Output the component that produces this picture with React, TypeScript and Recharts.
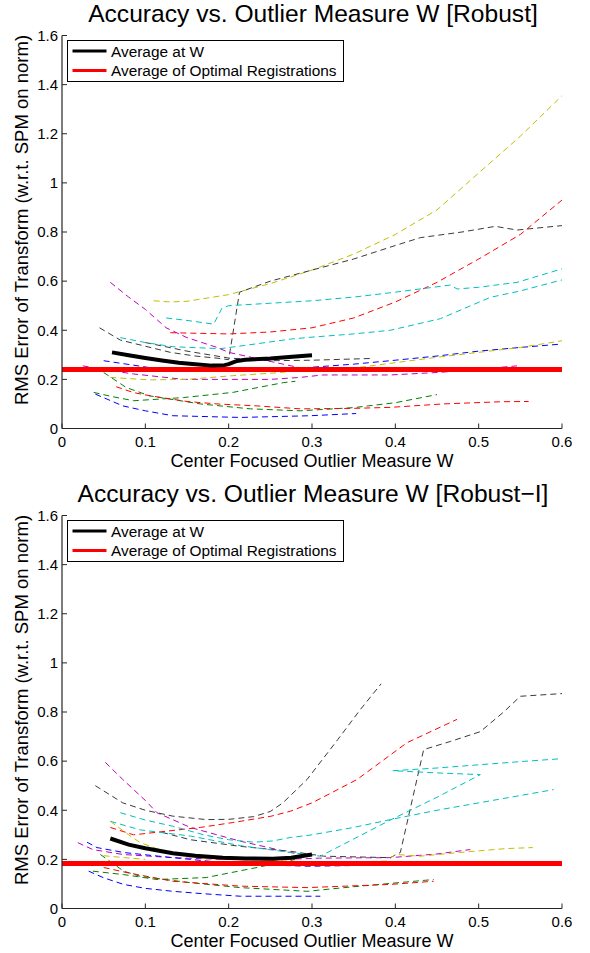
import React from 'react';
import { LineChart, Line, XAxis, YAxis } from 'recharts';

type Pt = [number, number];

// ---------- axes ----------
const xTicks = [0, 0.1, 0.2, 0.3, 0.4, 0.5, 0.6];
const xTickLabels = ['0', '0.1', '0.2', '0.3', '0.4', '0.5', '0.6'];
const yTicks = [0, 0.2, 0.4, 0.6, 0.8, 1, 1.2, 1.4, 1.6];
const yTickLabels = ['0', '0.2', '0.4', '0.6', '0.8', '1', '1.2', '1.4', '1.6'];

const titles = ['Accuracy vs. Outlier Measure W [Robust]', 'Accuracy vs. Outlier Measure W [Robust\u2212I]'];
const xAxisLabel = 'Center Focused Outlier Measure W';
const yAxisLabel = 'RMS Error of Transform (w.r.t. SPM on norm)';
const legendLabels = ['Average at W', 'Average of Optimal Registrations'];

// ---------- [Robust] ----------
const robustYellowHigh: Pt[] = [[0.11, 0.52], [0.13, 0.515], [0.15, 0.518], [0.2, 0.545], [0.25, 0.59], [0.3, 0.645], [0.35, 0.71], [0.4, 0.79], [0.45, 0.89], [0.5, 1.04], [0.55, 1.19], [0.6, 1.355]];
const robustGrayJump: Pt[] = [[0.045, 0.41], [0.07, 0.36], [0.1, 0.335], [0.13, 0.31], [0.16, 0.295], [0.19, 0.285], [0.2, 0.28], [0.213, 0.555], [0.25, 0.6], [0.3, 0.645], [0.35, 0.69], [0.4, 0.745], [0.43, 0.777], [0.48, 0.8], [0.52, 0.823], [0.546, 0.808], [0.6, 0.826]];
const robustGrayFlat: Pt[] = [[0.1, 0.35], [0.15, 0.315], [0.2, 0.287], [0.25, 0.276], [0.3, 0.278], [0.37, 0.285]];
const robustRedHigh: Pt[] = [[0.13, 0.39], [0.2, 0.385], [0.25, 0.393], [0.3, 0.41], [0.35, 0.45], [0.4, 0.515], [0.45, 0.595], [0.5, 0.69], [0.55, 0.79], [0.6, 0.93]];
const robustCyanHigh: Pt[] = [[0.125, 0.45], [0.15, 0.44], [0.182, 0.425], [0.192, 0.49], [0.2, 0.5], [0.25, 0.51], [0.3, 0.52], [0.35, 0.535], [0.4, 0.555], [0.466, 0.584], [0.474, 0.568], [0.5, 0.575], [0.546, 0.595], [0.6, 0.65]];
const robustCyanLow: Pt[] = [[0.07, 0.37], [0.1, 0.35], [0.133, 0.333], [0.19, 0.325], [0.234, 0.345], [0.274, 0.364], [0.3, 0.372], [0.35, 0.385], [0.394, 0.4], [0.454, 0.447], [0.514, 0.534], [0.55, 0.56], [0.6, 0.605]];
const robustMagentaHigh: Pt[] = [[0.058, 0.595], [0.08, 0.535], [0.1, 0.485], [0.125, 0.41], [0.15, 0.37], [0.186, 0.33], [0.2, 0.31], [0.246, 0.276], [0.286, 0.247], [0.3, 0.24]];
const robustMagentaLow: Pt[] = [[0.025, 0.255], [0.05, 0.24], [0.086, 0.222], [0.146, 0.2], [0.205, 0.2], [0.25, 0.2], [0.286, 0.208], [0.313, 0.218], [0.394, 0.218], [0.45, 0.228], [0.48, 0.235], [0.546, 0.255]];
const robustBlueMid: Pt[] = [[0.05, 0.276], [0.105, 0.248], [0.15, 0.24], [0.2, 0.236], [0.25, 0.24], [0.298, 0.249], [0.35, 0.262], [0.394, 0.276], [0.45, 0.295], [0.5, 0.315], [0.55, 0.33], [0.6, 0.344]];
const robustYellowLow: Pt[] = [[0.058, 0.208], [0.105, 0.198], [0.15, 0.2], [0.205, 0.215], [0.25, 0.225], [0.286, 0.235], [0.357, 0.249], [0.4, 0.268], [0.45, 0.29], [0.5, 0.31], [0.55, 0.33], [0.6, 0.357]];
const robustGreenRise: Pt[] = [[0.038, 0.147], [0.06, 0.13], [0.086, 0.113], [0.146, 0.126], [0.205, 0.147], [0.266, 0.187], [0.28, 0.192]];
const robustGreenFall: Pt[] = [[0.05, 0.228], [0.077, 0.167], [0.105, 0.133], [0.166, 0.1], [0.226, 0.08], [0.286, 0.072], [0.35, 0.085], [0.4, 0.105], [0.45, 0.138]];
const robustRedLow: Pt[] = [[0.065, 0.17], [0.086, 0.146], [0.106, 0.133], [0.15, 0.11], [0.186, 0.1], [0.234, 0.092], [0.286, 0.08], [0.35, 0.082], [0.394, 0.086], [0.457, 0.1], [0.527, 0.109], [0.56, 0.11]];
const robustBlueLow: Pt[] = [[0.04, 0.14], [0.073, 0.092], [0.1, 0.072], [0.133, 0.052], [0.214, 0.045], [0.298, 0.052], [0.353, 0.061]];
const robustAvgW: Pt[] = [[0.06, 0.31], [0.08, 0.298], [0.1, 0.287], [0.12, 0.277], [0.14, 0.268], [0.16, 0.262], [0.18, 0.256], [0.195, 0.258], [0.2, 0.262], [0.21, 0.275], [0.22, 0.28], [0.25, 0.285], [0.28, 0.293], [0.3, 0.298]];
const robustAvgOpt = 0.24;

// ---------- [Robust-I] ----------
const robustIMagentaHigh: Pt[] = [[0.052, 0.595], [0.073, 0.525], [0.1, 0.44], [0.114, 0.39], [0.154, 0.33], [0.214, 0.274], [0.274, 0.228], [0.3, 0.215]];
const robustIMagentaLow: Pt[] = [[0.019, 0.268], [0.037, 0.24], [0.073, 0.22], [0.133, 0.207], [0.193, 0.2], [0.25, 0.198], [0.309, 0.205], [0.394, 0.207], [0.45, 0.222], [0.49, 0.24]];
const robustIGrayHigh: Pt[] = [[0.04, 0.5], [0.073, 0.43], [0.1, 0.4], [0.133, 0.376], [0.173, 0.362], [0.2, 0.363], [0.23, 0.374], [0.25, 0.395], [0.265, 0.43], [0.294, 0.525], [0.331, 0.688], [0.358, 0.81], [0.383, 0.915]];
const robustIGrayJump: Pt[] = [[0.12, 0.31], [0.154, 0.28], [0.214, 0.253], [0.274, 0.233], [0.314, 0.213], [0.394, 0.207], [0.406, 0.228], [0.434, 0.647], [0.466, 0.68], [0.502, 0.72], [0.53, 0.8], [0.55, 0.864], [0.6, 0.875]];
const robustIRedHigh: Pt[] = [[0.058, 0.33], [0.086, 0.3], [0.126, 0.315], [0.166, 0.33], [0.205, 0.35], [0.25, 0.375], [0.274, 0.396], [0.3, 0.43], [0.354, 0.525], [0.414, 0.675], [0.474, 0.77]];
const robustICyanA: Pt[] = [[0.07, 0.39], [0.1, 0.36], [0.133, 0.335], [0.17, 0.3], [0.2, 0.28], [0.23, 0.27], [0.253, 0.275], [0.274, 0.289], [0.3, 0.3], [0.35, 0.33], [0.394, 0.362], [0.45, 0.4], [0.5, 0.43], [0.55, 0.46], [0.59, 0.484]];
const robustICyanB: Pt[] = [[0.058, 0.355], [0.094, 0.32], [0.154, 0.295], [0.214, 0.256], [0.274, 0.228], [0.31, 0.213], [0.35, 0.283], [0.394, 0.36], [0.45, 0.453], [0.502, 0.545], [0.45, 0.552], [0.397, 0.561], [0.45, 0.572], [0.5, 0.585], [0.55, 0.598], [0.6, 0.61]];
const robustIYellow: Pt[] = [[0.058, 0.355], [0.08, 0.3], [0.094, 0.268], [0.133, 0.22], [0.17, 0.205], [0.2, 0.2], [0.25, 0.195], [0.3, 0.19], [0.35, 0.19], [0.39, 0.193], [0.4, 0.22], [0.43, 0.213], [0.477, 0.228], [0.533, 0.244], [0.565, 0.248]];
const robustIYellowShort: Pt[] = [[0.05, 0.215], [0.075, 0.207], [0.1, 0.2]];
const robustIBlueMid: Pt[] = [[0.03, 0.27], [0.042, 0.248], [0.074, 0.228], [0.133, 0.207], [0.214, 0.18], [0.298, 0.172], [0.35, 0.175], [0.43, 0.175]];
const robustIBlueLow: Pt[] = [[0.032, 0.152], [0.05, 0.125], [0.074, 0.098], [0.1, 0.082], [0.133, 0.07], [0.17, 0.06], [0.214, 0.05], [0.25, 0.05], [0.31, 0.05]];
const robustIGreenRise: Pt[] = [[0.037, 0.152], [0.074, 0.138], [0.114, 0.118], [0.173, 0.126], [0.234, 0.167], [0.28, 0.2]];
const robustIGreenFall: Pt[] = [[0.046, 0.22], [0.074, 0.152], [0.094, 0.131], [0.154, 0.105], [0.214, 0.085], [0.294, 0.07], [0.354, 0.09], [0.446, 0.118]];
const robustIRedLow: Pt[] = [[0.05, 0.167], [0.078, 0.146], [0.133, 0.111], [0.214, 0.091], [0.294, 0.085], [0.394, 0.098], [0.446, 0.111]];
const robustIAvgW: Pt[] = [[0.058, 0.285], [0.08, 0.26], [0.1, 0.245], [0.133, 0.225], [0.16, 0.215], [0.193, 0.207], [0.22, 0.204], [0.253, 0.203], [0.275, 0.207], [0.3, 0.22]];
const robustIAvgOpt = 0.183;

// ---------- colours ----------
const C = {
  b: '#0000ff',
  g: '#008000',
  r: '#ff0000',
  c: '#00bfbf',
  m: '#bf00bf',
  y: '#bfbf00',
  k: '#3a3a3a',
};

const FONT = '"Liberation Sans", Arial, sans-serif';
const AXIS = '#262626';
const W = 590;
const H = 473;
const PLOT_TOP = 35.5;
const PLOT_BOTTOM = 428.5;
const PLOT_LEFT = 62;
const PLOT_RIGHT = 562;

type Series = { color: string; pts: Pt[] };

const toData = (pts: Pt[]) => pts.map(([x, y]) => ({ x, y }));

const robustSeries: Series[] = [
  { color: C.y, pts: robustYellowHigh },
  { color: C.k, pts: robustGrayJump },
  { color: C.k, pts: robustGrayFlat },
  { color: C.r, pts: robustRedHigh },
  { color: C.c, pts: robustCyanHigh },
  { color: C.c, pts: robustCyanLow },
  { color: C.m, pts: robustMagentaHigh },
  { color: C.m, pts: robustMagentaLow },
  { color: C.b, pts: robustBlueMid },
  { color: C.y, pts: robustYellowLow },
  { color: C.g, pts: robustGreenRise },
  { color: C.g, pts: robustGreenFall },
  { color: C.r, pts: robustRedLow },
  { color: C.b, pts: robustBlueLow },
];

const robustISeries: Series[] = [
  { color: C.m, pts: robustIMagentaHigh },
  { color: C.m, pts: robustIMagentaLow },
  { color: C.k, pts: robustIGrayHigh },
  { color: C.k, pts: robustIGrayJump },
  { color: C.r, pts: robustIRedHigh },
  { color: C.c, pts: robustICyanA },
  { color: C.c, pts: robustICyanB },
  { color: C.y, pts: robustIYellow },
  { color: C.y, pts: robustIYellowShort },
  { color: C.b, pts: robustIBlueMid },
  { color: C.b, pts: robustIBlueLow },
  { color: C.g, pts: robustIGreenRise },
  { color: C.g, pts: robustIGreenFall },
  { color: C.r, pts: robustIRedLow },
];

const XTick = (props: any) => {
  const { x, y, payload } = props;
  const i = xTicks.indexOf(payload.value);
  return (
    <g>
      <line x1={x} x2={x} y1={y} y2={y - 5} stroke={AXIS} strokeWidth={1} />
      <text x={x} y={y + 18} textAnchor="middle" fontSize={15} fontFamily={FONT} fill="#000">
        {i >= 0 ? xTickLabels[i] : String(payload.value)}
      </text>
    </g>
  );
};

const YTick = (props: any) => {
  const { x, y, payload } = props;
  const i = yTicks.indexOf(payload.value);
  return (
    <g>
      <line x1={x} x2={x + 5} y1={y} y2={y} stroke={AXIS} strokeWidth={1} />
      <text x={x - 4} y={y + 5.3} textAnchor="end" fontSize={15} fontFamily={FONT} fill="#000">
        {i >= 0 ? yTickLabels[i] : String(payload.value)}
      </text>
    </g>
  );
};

function Panel({ top, title, series, avgW, avgOpt }: { top: number; title: string; series: Series[]; avgW: Pt[]; avgOpt: number }) {
  const optData = [
    { x: 0, y: avgOpt },
    { x: 0.6, y: avgOpt },
  ];
  const plotMid = (PLOT_LEFT + PLOT_RIGHT) / 2;
  return (
    <div style={{ position: 'absolute', left: 0, top, width: W, height: H }}>
      <LineChart
        width={W}
        height={H}
        margin={{ top: PLOT_TOP, right: W - PLOT_RIGHT, bottom: 0, left: 0 }}
      >
        <XAxis
          dataKey="x"
          type="number"
          domain={[0, 0.6]}
          ticks={xTicks}
          allowDataOverflow
          height={H - PLOT_BOTTOM}
          tickSize={0}
          tickMargin={0}
          tickLine={false}
          axisLine={{ stroke: AXIS, strokeWidth: 1.2 }}
          tick={XTick}
          interval={0}
        />
        <YAxis
          type="number"
          domain={[0, 1.6]}
          ticks={yTicks}
          allowDataOverflow
          width={PLOT_LEFT}
          tickSize={0}
          tickMargin={0}
          tickLine={false}
          axisLine={{ stroke: AXIS, strokeWidth: 1.2 }}
          tick={YTick}
          interval={0}
        />
        {series.map((s, i) => (
          <Line
            key={'s' + i}
            data={toData(s.pts)}
            dataKey="y"
            type="linear"
            stroke={s.color}
            strokeWidth={1}
            strokeDasharray="6 4"
            dot={false}
            activeDot={false}
            isAnimationActive={false}
          />
        ))}
        <Line
          data={optData}
          dataKey="y"
          type="linear"
          stroke="#ff0000"
          strokeWidth={5}
          dot={false}
          activeDot={false}
          isAnimationActive={false}
        />
        <Line
          data={toData(avgW)}
          dataKey="y"
          type="linear"
          stroke="#000000"
          strokeWidth={4}
          dot={false}
          activeDot={false}
          isAnimationActive={false}
        />
      </LineChart>
      <svg
        width={W}
        height={H}
        style={{ position: 'absolute', left: 0, top: 0, pointerEvents: 'none' }}
      >
        <text x={plotMid + 1} y={22} textAnchor="middle" fontSize={24.6} fontFamily={FONT} fill="#000">
          {title}
        </text>
        <text x={plotMid} y={467} textAnchor="middle" fontSize={18} fontFamily={FONT} fill="#000">
          {xAxisLabel}
        </text>
        <text
          x={0}
          y={0}
          transform={`translate(28, 220) rotate(-90)`}
          textAnchor="middle"
          fontSize={18.5}
          fontFamily={FONT}
          fill="#000"
        >
          {yAxisLabel}
        </text>
        <rect x={67.5} y={40.5} width={276} height={41} fill="#fff" stroke="#000" strokeWidth={1} />
        <line x1={72.5} x2={106.5} y1={51} y2={51} stroke="#000" strokeWidth={3} />
        <line x1={72.5} x2={106.5} y1={70.5} y2={70.5} stroke="#ff0000" strokeWidth={3} />
        <text x={111} y={56.5} fontSize={15.4} fontFamily={FONT} fill="#000">
          {legendLabels[0]}
        </text>
        <text x={111} y={76} fontSize={15.4} fontFamily={FONT} fill="#000">
          {legendLabels[1]}
        </text>
      </svg>
    </div>
  );
}

export default function App() {
  return (
    <div
      style={{
        position: 'absolute',
        left: 0,
        top: 0,
        width: 590,
        height: 953,
        background: '#fff',
        overflow: 'hidden',
        fontFamily: FONT,
      }}
    >
      <Panel top={0} title={titles[0]} series={robustSeries} avgW={robustAvgW} avgOpt={robustAvgOpt} />
      <Panel top={480} title={titles[1]} series={robustISeries} avgW={robustIAvgW} avgOpt={robustIAvgOpt} />
    </div>
  );
}
